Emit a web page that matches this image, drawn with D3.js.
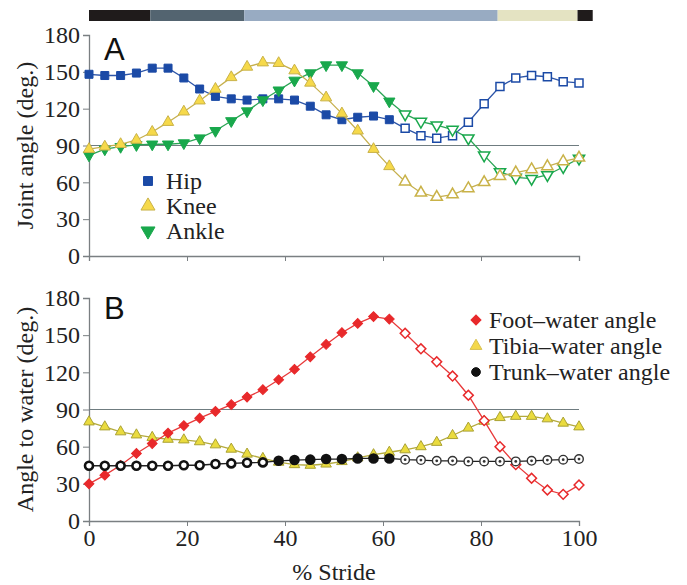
<!DOCTYPE html>
<html>
<head>
<meta charset="utf-8">
<script src="https://cdn.jsdelivr.net/npm/d3@7"></script>
</head>
<body style="margin:0">
<svg width="687" height="585"></svg>
<script>
// stride points (32 samples over one stride)
const nPts = 32;
const stride = d3.range(nPts).map(i => i * 100 / (nPts - 1));
const openFrom = 20; // open markers after this index

// panel A: joint angles
const hip = [148,147,147,149,153,153,145,136,130,128,127,128,128,127,122,115,111,113,114,111,104,98,96,98,109,124,138,145,147,146,142,141];
const knee = [87,89,91,94.5,101,109,117.5,126.5,136,145.5,154,157.5,157,151,141,129,116,102,87,73,60.5,51.5,48,50,55,60,65,68,70.5,73,77,80];
const ankle = [82,87,89,90.5,91,91,92,96,102,110,118,127,135,143,149,155.5,155.5,149,138.5,126,115.5,109.5,106.5,103,96,82,68.5,64,63,66,72.5,79.5];

// panel B: angles to water
const foot = [30,37,45,54.5,62.5,71,77,83,88.5,94,100,106,114,122.5,132.5,142.5,152,159.5,165,163,151.5,139,128.5,117,101.5,81,60,45.5,34.5,25,21.5,29];
const tibia = [80,76,72,69.5,67.5,66,65.5,64,61.5,58,54,50.5,47.5,45.5,45,46,48,51,53.5,55.5,57.5,60,63.5,69,75,80.5,83.5,84.5,84.5,82.5,79,76];
const trunk = [44.6,44.6,44.6,44.6,44.6,44.6,45,45,46,46.5,47,47.3,48.6,49.2,49.5,50,50,50.5,50.5,50.5,49.5,49.2,48.6,48.6,48.1,48.1,48.1,48.1,48.6,49.2,49.5,50];

const yTicks = [0, 30, 60, 90, 120, 150, 180];
const xTicks = [0, 20, 40, 60, 80, 100];

// phase bar along the top (% stride boundaries)
const phaseEdges = [0, 12.5, 31.7, 83.4, 99.7, 102.8];
const phaseColors = ['#1f1b1b', '#536470', '#98abc2', '#e4e3c2', '#1f1b1b'];

const svg = d3.select('svg').style('font-family', '"Liberation Serif"');

const x = d3.scaleLinear().domain([0, 100]).range([89, 579]);
const yA = d3.scaleLinear().domain([0, 180]).range([256, 35]);
const yB = d3.scaleLinear().domain([0, 180]).range([521, 298]);

// phase bar
svg.append('g').selectAll('rect')
  .data(phaseColors)
  .enter().append('rect')
  .attr('x', (c, i) => x(phaseEdges[i]))
  .attr('width', (c, i) => x(phaseEdges[i + 1]) - x(phaseEdges[i]))
  .attr('y', 10)
  .attr('height', 11)
  .attr('fill', c => c);

function drawAxes(y, showXLabels) {
  const ga = svg.append('g')
    .attr('transform', `translate(${x(0)},0)`)
    .call(d3.axisLeft(y).tickValues(yTicks).tickSize(6).tickPadding(3));

  const gb = svg.append('g')
    .attr('transform', `translate(0,${y(0)})`)
    .call(d3.axisBottom(x).tickValues(xTicks).tickSize(5).tickPadding(3)
      .tickFormat(showXLabels ? d3.format('d') : ''));

  [ga, gb].forEach(g => {
    g.attr('font-family', null).attr('font-size', null);
    g.selectAll('path, line').attr('stroke', '#7a7f82');
    g.select('.domain').attr('stroke-width', 1.3);
    g.selectAll('text')
      .style('font-family', '"Liberation Serif"')
      .style('font-size', '24px')
      .attr('fill', '#222');
  });

  // 90 deg reference line
  svg.append('line')
    .attr('x1', x(0)).attr('x2', x(100))
    .attr('y1', y(90)).attr('y2', y(90))
    .attr('stroke', '#6f7c80')
    .attr('stroke-width', 1.2);
}

drawAxes(yA, false);
drawAxes(yB, true);

function drawSeries(values, y, opt) {
  const line = d3.line().x((v, i) => x(stride[i])).y(v => y(v));
  svg.append('path')
    .datum(values)
    .attr('d', line)
    .attr('fill', 'none')
    .attr('stroke', opt.line)
    .attr('stroke-width', 1.3);

  const sym = d3.symbol().type(opt.shape).size(opt.size);
  svg.append('g').selectAll('path')
    .data(values)
    .enter().append('path')
    .attr('d', sym)
    .attr('transform', (v, i) => `translate(${x(stride[i])},${y(v)}) rotate(${opt.rot || 0})`)
    .attr('fill', (v, i) => (opt.keepFill || i < openFrom) ? opt.fill : '#fff')
    .attr('stroke', opt.stroke)
    .attr('stroke-width', (v, i) => i < openFrom || opt.keepFill ? 1 : 1.5);
}

// panel A
drawSeries(hip, yA, { shape: d3.symbolSquare, size: 64, fill: '#1b4aa6', stroke: '#1b4aa6', line: '#2d55a8' });
drawSeries(ankle, yA, { shape: d3.symbolTriangle, size: 55, rot: 180, fill: '#19a84c', stroke: '#19a84c', line: '#2ba455' });
drawSeries(knee, yA, { shape: d3.symbolTriangle, size: 55, fill: '#f6d94a', stroke: '#c9b248', line: '#c6b04e' });

// panel B
drawSeries(tibia, yB, { shape: d3.symbolTriangle, size: 48, fill: '#eadb3e', stroke: '#aaa233', line: '#b4aa3c', keepFill: true });
drawSeries(foot, yB, { shape: d3.symbolSquare, size: 48, rot: 45, fill: '#e8292b', stroke: '#e8292b', line: '#e8393a' });

// trunk: thick black rings, solid later, targets after open index
const trunkLine = d3.line().x((v, i) => x(stride[i])).y(v => yB(v));
svg.append('path').datum(trunk).attr('d', trunkLine)
  .attr('fill', 'none').attr('stroke', '#222').attr('stroke-width', 1.3);
const tg = svg.append('g').selectAll('g')
  .data(trunk)
  .enter().append('g')
  .attr('transform', (v, i) => `translate(${x(stride[i])},${yB(v)})`);
tg.append('circle')
  .attr('r', (v, i) => i < openFrom ? 4 : 4.3)
  .attr('fill', (v, i) => i < 12 ? '#fff' : (i < openFrom ? '#111' : '#fff'))
  .attr('stroke', (v, i) => i < openFrom ? '#111' : '#333')
  .attr('stroke-width', (v, i) => i < openFrom ? 2.6 : 1.4);
tg.filter((v, i) => i >= openFrom).append('circle')
  .attr('r', 1.4).attr('fill', '#333');

// panel letters
['A', 'B'].forEach((s, k) => {
  svg.append('text').attr('x', 104).attr('y', k ? 319 : 60)
    .style('font-family', '"Liberation Sans"').style('font-size', '31px')
    .attr('fill', '#111')
    .text(s);
});

// axis titles
function title(tx, ty, rot, txt) {
  svg.append('text')
    .attr('transform', `translate(${tx},${ty}) rotate(${rot})`)
    .attr('text-anchor', 'middle')
    .style('font-family', '"Liberation Serif"').style('font-size', '24px')
    .attr('fill', '#222')
    .text(txt);
}
title(33, (yA(0) + yA(180)) / 2, -90, 'Joint angle (deg.)');
title(33, (yB(0) + yB(180)) / 2, -90, 'Angle to water (deg.)');
title(x(50), 580, 0, '% Stride');

// legends
const legA = [
  { name: 'Hip', shape: d3.symbolSquare, fill: '#1b4aa6', stroke: '#1b4aa6', rot: 0, size: 80 },
  { name: 'Knee', shape: d3.symbolTriangle, fill: '#f6d94a', stroke: '#c9b248', rot: 0, size: 85 },
  { name: 'Ankle', shape: d3.symbolTriangle, fill: '#19a84c', stroke: '#19a84c', rot: 180, size: 85 }
];
const gA = svg.append('g').selectAll('g').data(legA).enter().append('g')
  .attr('transform', (d, i) => `translate(148,${181 + i * 25})`);
gA.append('path').attr('d', d => d3.symbol().type(d.shape).size(d.size)())
  .attr('transform', d => `rotate(${d.rot})`)
  .attr('fill', d => d.fill).attr('stroke', d => d.stroke);
gA.append('text').attr('x', 18).attr('y', 8)
  .style('font-family', '"Liberation Serif"').style('font-size', '24px')
  .attr('fill', '#222')
  .text(d => d.name);

const legB = [
  { name: 'Foot\u2013water angle', shape: d3.symbolSquare, fill: '#e8292b', stroke: '#e8292b', rot: 45, size: 50 },
  { name: 'Tibia\u2013water angle', shape: d3.symbolTriangle, fill: '#f4d84a', stroke: '#d8c050', rot: 0, size: 60 },
  { name: 'Trunk\u2013water angle', shape: d3.symbolCircle, fill: '#111', stroke: '#111', rot: 0, size: 60 }
];
const gB = svg.append('g').selectAll('g').data(legB).enter().append('g')
  .attr('transform', (d, i) => `translate(476,${320 + i * 26})`);
gB.append('path').attr('d', d => d3.symbol().type(d.shape).size(d.size)())
  .attr('transform', d => `rotate(${d.rot})`)
  .attr('fill', d => d.fill).attr('stroke', d => d.stroke);
gB.append('text').attr('x', 13).attr('y', 8)
  .style('font-family', '"Liberation Serif"').style('font-size', '24px')
  .attr('fill', '#222')
  .text(d => d.name);
</script>
</body>
</html>
